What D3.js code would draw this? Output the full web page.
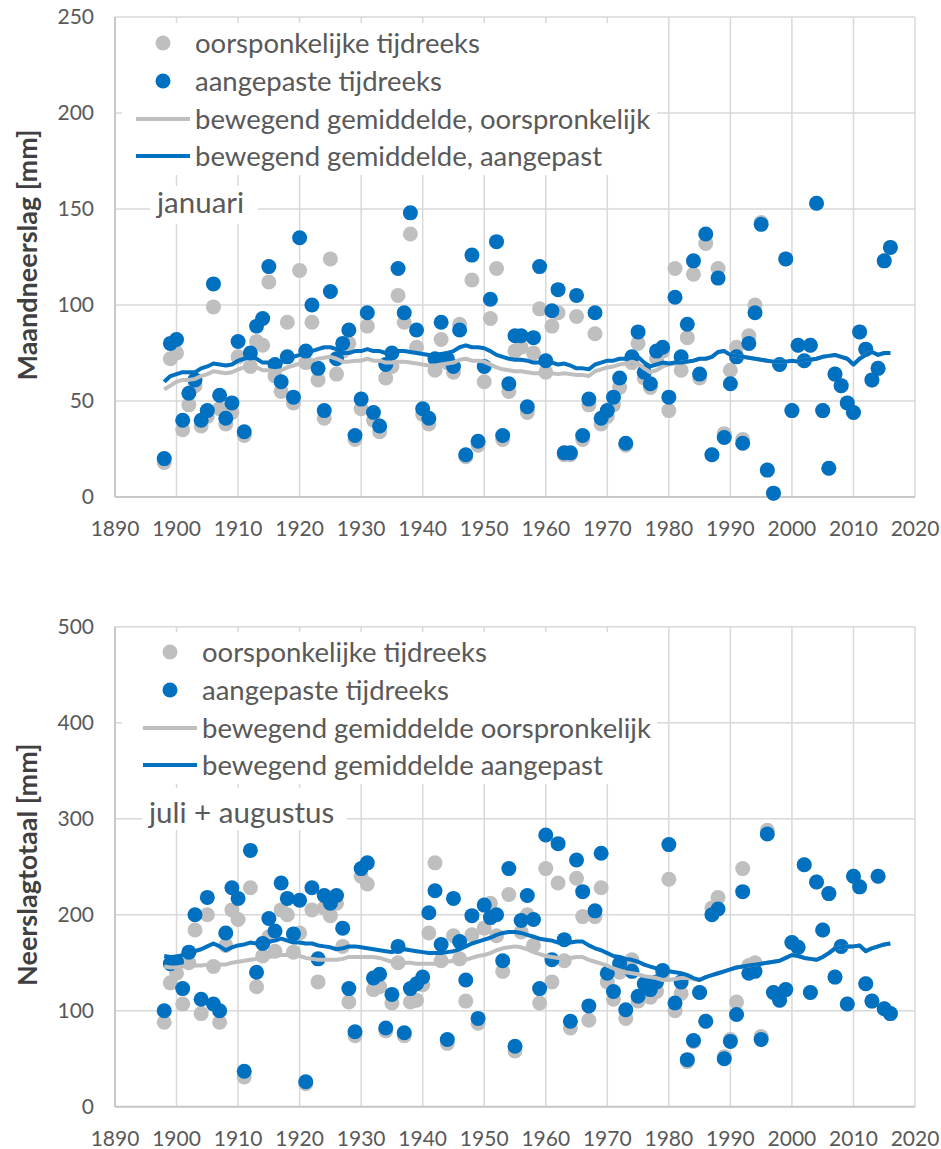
<!DOCTYPE html>
<html>
<head>
<meta charset="utf-8">
<script src="https://cdn.jsdelivr.net/npm/d3@7"></script>
<style>
  body { margin: 0; background: #fff; }
  svg { display: block; font-family: Lato, "Open Sans", sans-serif; }
  .grid line { stroke: #d9d9d9; stroke-width: 1.5; }
  .tick-label { fill: #595959; font-size: 21px; }
  .legend-label { fill: #595959; font-size: 27.5px; }
  .season-label { fill: #595959; font-size: 29.5px; }
  .axis-title { fill: #404040; font-size: 27px; font-weight: bold; }
</style>
</head>
<body>
<svg id="chart"></svg>
<script>
// years 1898 - 2016
const years = d3.range(1898, 2017);

// januari, monthly precipitation [mm]
const janOrig = [18, 72,
  75, 35, 48, 58, 37, 42, 99, 46, 38, 44,
  73, 32, 68, 81, 79, 112, 63, 55, 91, 49,
  118, 70, 91, 61, 41, 124, 64, 76, 80, 30,
  46, 89, 40, 34, 62, 68, 105, 91, 137, 78,
  43, 38, 66, 82, 70, 65, 90, 21, 113, 27,
  60, 93, 119, 30, 55, 76, 78, 44, 75, 98,
  65, 89, 96, 22, 22, 94, 30, 48, 85, 38,
  42, 48, 57, 27, 70, 80, 62, 57, 72, 76,
  45, 119, 66, 83, 116, 62, 132, 22, 119, 33,
  66, 78, 30, 84, 100, 143, 14, 2, 69, 124,
  45, 79, 71, 79, 153, 45, 15, 64, 58, 49,
  44, 86, 77, 61, 67, 123, 130];

const janAdj = [20, 80,
  82, 40, 54, 61, 40, 45, 111, 53, 41, 49,
  81, 34, 75, 89, 93, 120, 69, 60, 73, 52,
  135, 76, 100, 67, 45, 107, 72, 80, 87, 32,
  51, 96, 44, 37, 69, 75, 119, 96, 148, 87,
  46, 41, 72, 91, 72, 68, 87, 22, 126, 29,
  68, 103, 133, 32, 59, 84, 84, 47, 83, 120,
  71, 97, 108, 23, 23, 105, 32, 51, 96, 41,
  45, 52, 62, 28, 73, 86, 65, 59, 76, 78,
  52, 104, 73, 90, 123, 64, 137, 22, 114, 31,
  59, 73, 28, 80, 96, 142, 14, 2, 69, 124,
  45, 79, 71, 79, 153, 45, 15, 64, 58, 49,
  44, 86, 77, 61, 67, 123, 130];

const janOrigMa = [56, 58,
  60, 61, 61, 61.5, 63, 64, 65.5, 65, 64.5, 65,
  66.5, 67.5, 68, 67.5, 66, 66, 65.5, 66, 67.5, 68.5,
  69.5, 71, 71, 72, 72.5, 73, 72, 70.5, 70.5, 71,
  71, 72, 71, 71, 70, 70, 70.5, 70.5, 70, 69.5,
  69, 68.5, 68.5, 69, 69.5, 70, 71.5, 72, 71, 71,
  70.5, 69, 67.5, 66.5, 66, 65.5, 65.5, 65, 64.5, 64.5,
  64, 64.5, 64, 64.5, 64, 63.5, 63.5, 63, 65.5, 66.5,
  67.5, 68, 69, 69.5, 70.5, 69.5, 67, 65, 66, 68,
  69, 69.5, 70, 70.5, 71, 72, 72, 73, 75.5, 76,
  74, 73.5, 73, 72.5, 72, 71.5, 71, 70.5, 70.5, 70.5,
  71, 70.5, 71.5, 71.5, 72, 73, 73.5, 74, 73, 72,
  69, 72, 74, 75.5, 74, 75, 75];

const janAdjMa = [60, 63,
  64, 65, 65, 65, 67, 68, 69.5, 69, 68.5, 69,
  71, 72, 73, 72, 70, 70, 69, 70, 72, 73,
  74, 76, 76, 77, 78, 78, 77, 75, 75, 76,
  76, 77, 76, 76, 75, 75, 76, 76, 75.5, 75,
  74.5, 74, 74, 74.5, 75, 76, 78, 79, 78, 78,
  77.5, 76, 74, 73, 72, 71.5, 71.5, 71, 70, 70,
  69.5, 70, 69, 69.5, 68.5, 67, 67, 66.5, 69, 70,
  71, 71, 72, 72, 74, 73, 70, 68, 69, 70,
  69.5, 70, 70, 70.5, 71, 72, 72, 73, 75.5, 76,
  74, 73.5, 73, 72.5, 72, 71.5, 71, 70.5, 70.5, 70.5,
  71, 70.5, 71.5, 71.5, 72, 73, 73.5, 74, 73, 72,
  69, 72, 74, 75.5, 74, 75, 75];

// juli + augustus, precipitation total [mm]
const jaOrig = [88, 129,
  139, 107, 150, 184, 97, 200, 146, 88, 168, 205,
  195, 31, 228, 125, 157, 177, 162, 205, 200, 161,
  181, 24, 205, 130, 207, 199, 212, 167, 109, 74,
  240, 232, 122, 125, 79, 108, 150, 74, 109, 111,
  127, 181, 254, 152, 66, 178, 154, 110, 179, 87,
  186, 212, 178, 141, 221, 58, 182, 200, 168, 108,
  248, 130, 233, 152, 82, 238, 198, 90, 198, 228,
  130, 112, 140, 92, 153, 110, 118, 114, 120, 138,
  237, 100, 118, 47, 68, 119, 89, 207, 218, 52,
  70, 109, 248, 147, 150, 73, 288, 119, 111, 122,
  171, 166, 252, 119, 234, 184, 222, 135, 167, 107,
  240, 229, 128, 110, 240, 102, 97];

const jaAdj = [100, 149,
  151, 123, 161, 200, 112, 218, 107, 100, 181, 228,
  217, 37, 267, 140, 170, 196, 183, 233, 217, 180,
  215, 26, 228, 154, 220, 212, 220, 186, 123, 78,
  248, 254, 134, 138, 82, 117, 167, 77, 123, 128,
  135, 202, 225, 169, 70, 217, 172, 132, 199, 92,
  210, 197, 200, 152, 248, 63, 194, 220, 195, 123,
  283, 153, 274, 174, 89, 257, 224, 105, 204, 264,
  139, 120, 149, 101, 141, 115, 128, 122, 130, 142,
  273, 108, 130, 49, 69, 119, 89, 200, 206, 50,
  68, 96, 224, 139, 141, 70, 284, 119, 111, 122,
  171, 166, 252, 119, 234, 184, 222, 135, 167, 107,
  240, 229, 128, 110, 240, 102, 97];

const jaOrigMa = [146, 145,
  145, 146, 147, 147, 147, 148, 150, 148, 148, 150,
  151, 152, 153, 154, 155, 156, 157, 158, 158, 158,
  157, 155, 154, 153, 153, 153, 153, 154, 156, 156,
  156, 156, 156, 155, 153, 151, 150, 150, 150, 149,
  149, 149, 149, 150, 151, 152, 153, 153, 155, 157,
  158, 160, 163, 165, 166, 167, 166, 164, 161, 159,
  157, 156, 155, 155, 155, 156, 156, 153, 151, 149,
  147, 144, 142, 140, 139, 138, 136, 135, 134, 132,
  132, 133, 134, 134, 133, 132, 135, 137, 139, 141,
  143, 145, 146, 147, 148, 149, 150, 151, 152, 155,
  158, 157, 155, 154, 153, 156, 160, 165, 166, 167,
  167, 168, 162, 165, 167, 169, 170];

const jaAdjMa = [157, 156,
  156, 158, 160, 162, 164, 167, 170, 167, 163, 166,
  168, 169, 171, 170, 170, 172, 173, 175, 173, 171,
  171, 170, 170, 168, 167, 166, 164, 165, 167, 167,
  166, 165, 164, 163, 162, 161, 163, 164, 163, 162,
  161, 160, 160, 160, 161, 162, 164, 167, 170, 172,
  174, 176, 179, 181, 182, 182, 181, 179, 177, 175,
  174, 173, 171, 170, 171, 172, 172, 168, 165, 163,
  160, 157, 156, 154, 153, 151, 148, 146, 144, 143,
  141, 140, 139, 137, 134, 132, 135, 137, 139, 141,
  143, 145, 146, 147, 148, 149, 150, 151, 152, 155,
  158, 157, 155, 154, 153, 156, 160, 165, 166, 167,
  167, 168, 162, 165, 167, 169, 170];

const xTicks = d3.range(1890, 2021, 10);

const grey = '#bfbfbf';
const blue = '#0070c0';

const svg = d3.select('#chart').attr('width', 941).attr('height', 1149);

class PrecipPanel {
  constructor(_config) {
    this.config = _config;
    this.initVis();
  }

  initVis() {
    let vis = this;
    const c = vis.config;

    vis.xScale = d3.scaleLinear().domain([1890, 2020]).range([115, 915]);
    vis.yScale = d3.scaleLinear().domain([0, c.yMax]).range([c.y0, c.y0 - 480]);

    vis.g = svg.append('g');

    // gridlines
    const grid = vis.g.append('g').attr('class', 'grid');
    grid.selectAll('.hgrid')
        .data(vis.yScale.ticks(5))
        .join('line')
        .attr('x1', vis.xScale(1890)).attr('x2', vis.xScale(2020))
        .attr('y1', d => vis.yScale(d)).attr('y2', d => vis.yScale(d));
    grid.selectAll('.vgrid')
        .data(xTicks)
        .join('line')
        .attr('x1', d => vis.xScale(d)).attr('x2', d => vis.xScale(d))
        .attr('y1', vis.yScale(0)).attr('y2', vis.yScale(c.yMax));

    // axis lines
    vis.g.append('line')
        .attr('x1', vis.xScale(1890)).attr('x2', vis.xScale(1890))
        .attr('y1', vis.yScale(0)).attr('y2', vis.yScale(c.yMax))
        .attr('stroke', '#c8c8c8').attr('stroke-width', 2);
    vis.g.append('line')
        .attr('x1', vis.xScale(1890)).attr('x2', vis.xScale(2020))
        .attr('y1', vis.yScale(0)).attr('y2', vis.yScale(0))
        .attr('stroke', '#c8c8c8').attr('stroke-width', 2);

    // tick labels
    vis.g.selectAll('.ylab')
        .data(vis.yScale.ticks(5))
        .join('text')
        .attr('class', 'tick-label')
        .attr('x', 94)
        .attr('y', d => vis.yScale(d))
        .attr('dy', '0.35em')
        .attr('text-anchor', 'end')
        .text(d => d);
    vis.g.selectAll('.xlab')
        .data(xTicks)
        .join('text')
        .attr('class', 'tick-label')
        .attr('x', d => vis.xScale(d))
        .attr('y', c.y0 + 32)
        .attr('dy', '0.35em')
        .attr('text-anchor', 'middle')
        .text(d => d);

    vis.g.append('text')
        .attr('class', 'axis-title')
        .attr('transform', `translate(37,${c.y0 - 242}) rotate(-90)`)
        .attr('text-anchor', 'middle')
        .text(c.yTitle);
  }

  renderVis() {
    let vis = this;
    const c = vis.config;
    const pts = (vals) => years.map((yr, i) => ({year: yr, value: vals[i]}));

    const line = d3.line()
        .x(d => vis.xScale(d.year))
        .y(d => vis.yScale(d.value));

    vis.g.append('g').selectAll('circle')
        .data(pts(c.orig))
        .join('circle')
        .attr('cx', d => vis.xScale(d.year))
        .attr('cy', d => vis.yScale(d.value))
        .attr('r', 7.5)
        .attr('fill', grey);

    vis.g.append('g').selectAll('circle')
        .data(pts(c.adj))
        .join('circle')
        .attr('cx', d => vis.xScale(d.year))
        .attr('cy', d => vis.yScale(d.value))
        .attr('r', 7.5)
        .attr('fill', blue);

    vis.g.append('path')
        .datum(pts(c.origMa))
        .attr('d', line)
        .attr('fill', 'none')
        .attr('stroke', grey)
        .attr('stroke-width', 4)
        .attr('stroke-linejoin', 'round');

    vis.g.append('path')
        .datum(pts(c.adjMa))
        .attr('d', line)
        .attr('fill', 'none')
        .attr('stroke', blue)
        .attr('stroke-width', 4)
        .attr('stroke-linejoin', 'round');

    // legend with white box over the grid
    const lg = vis.g.append('g');
    lg.append('rect')
        .attr('x', 122).attr('y', c.legendTop - 20)
        .attr('width', 535).attr('height', 152)
        .attr('fill', '#fff');
    const rows = [38, 76, 113];
    const lx = c.legendX;
    lg.append('circle').attr('cx', lx - 32).attr('cy', c.legendTop).attr('r', 7.5).attr('fill', grey);
    lg.append('circle').attr('cx', lx - 32).attr('cy', c.legendTop + rows[0]).attr('r', 7.5).attr('fill', blue);
    lg.append('line')
        .attr('x1', lx - 59).attr('x2', lx - 5)
        .attr('y1', c.legendTop + rows[1]).attr('y2', c.legendTop + rows[1])
        .attr('stroke', grey).attr('stroke-width', 4);
    lg.append('line')
        .attr('x1', lx - 59).attr('x2', lx - 5)
        .attr('y1', c.legendTop + rows[2]).attr('y2', c.legendTop + rows[2])
        .attr('stroke', blue).attr('stroke-width', 4);
    lg.selectAll('.legend-label')
        .data(c.legend)
        .join('text')
        .attr('class', 'legend-label')
        .attr('x', lx)
        .attr('y', (d, i) => c.legendTop + (i === 0 ? 0 : rows[i - 1]))
        .attr('dy', '0.35em')
        .text(d => d);

    // season label
    lg.append('rect')
        .attr('x', c.labelBox[0]).attr('y', c.labelBox[1])
        .attr('width', c.labelBox[2]).attr('height', c.labelBox[3])
        .attr('fill', '#fff');
    lg.append('text')
        .attr('class', 'season-label')
        .attr('x', c.labelBox[0] + 7)
        .attr('y', vis.yScale(c.labelAt) + 4)
        .text(c.label);
  }
}

const janPanel = new PrecipPanel({
  y0: 497, yMax: 250,
  yTitle: 'Maandneerslag [mm]',
  orig: janOrig, adj: janAdj, origMa: janOrigMa, adjMa: janAdjMa,
  legendTop: 43, legendX: 195,
  legend: ['oorsponkelijke tijdreeks', 'aangepaste tijdreeks',
           'bewegend gemiddelde, oorspronkelijk', 'bewegend gemiddelde, aangepast'],
  label: 'januari', labelAt: 150, labelBox: [150, 186, 108, 38]
});
janPanel.renderVis();

const jaPanel = new PrecipPanel({
  y0: 1106.7, yMax: 500,
  yTitle: 'Neerslagtotaal [mm]',
  orig: jaOrig, adj: jaAdj, origMa: jaOrigMa, adjMa: jaAdjMa,
  legendTop: 652, legendX: 202,
  legend: ['oorsponkelijke tijdreeks', 'aangepaste tijdreeks',
           'bewegend gemiddelde oorspronkelijk', 'bewegend gemiddelde aangepast'],
  label: 'juli + augustus', labelAt: 300, labelBox: [142, 788, 205, 42]
});
jaPanel.renderVis();
</script>
</body>
</html>
